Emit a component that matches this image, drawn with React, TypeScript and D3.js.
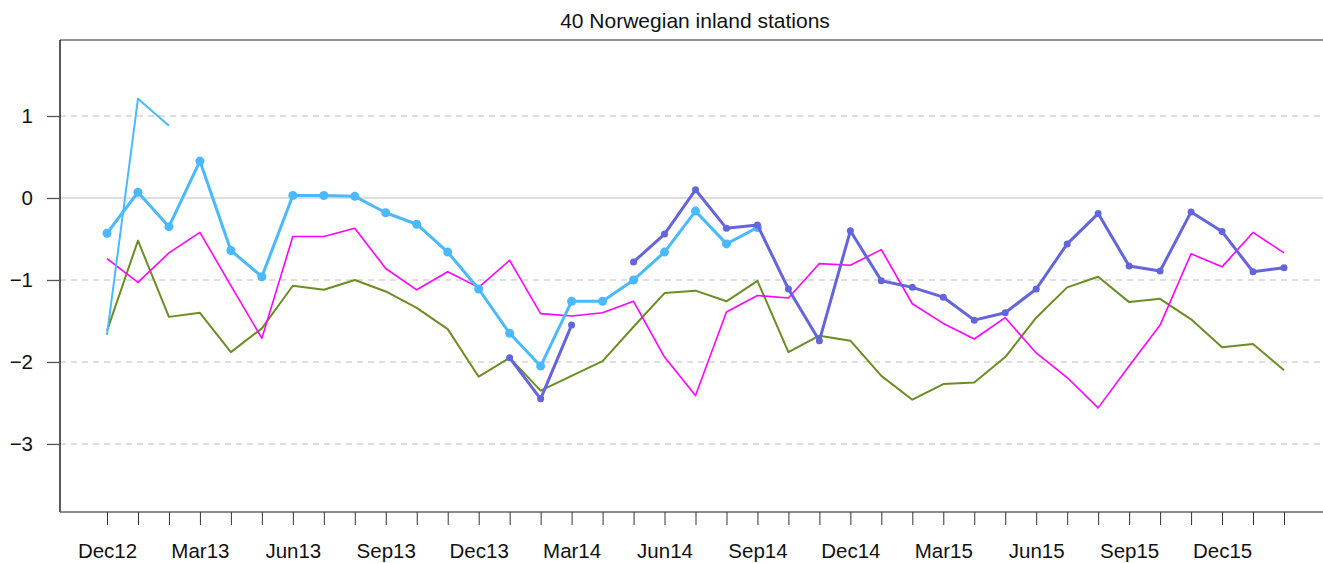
import { useEffect, useRef } from "react";
import * as d3 from "d3";

// Months Dec12 .. Feb16
const months = [
  "Dec12", "Jan13", "Feb13", "Mar13", "Apr13", "May13", "Jun13", "Jul13", "Aug13", "Sep13",
  "Oct13", "Nov13", "Dec13", "Jan14", "Feb14", "Mar14", "Apr14", "May14", "Jun14", "Jul14",
  "Aug14", "Sep14", "Oct14", "Nov14", "Dec14", "Jan15", "Feb15", "Mar15", "Apr15", "May15",
  "Jun15", "Jul15", "Aug15", "Sep15", "Oct15", "Nov15", "Dec15", "Jan16", "Feb16",
];
const tickLabels = ["Dec12", "Mar13", "Jun13", "Sep13", "Dec13", "Mar14", "Jun14", "Sep14", "Dec14", "Mar15", "Jun15", "Sep15", "Dec15"];
const yTicks = [1, 0, -1, -2, -3];

const N = null;
const olive = [
  -1.62, -0.52, -1.45, -1.4, -1.88, -1.59, -1.07, -1.12, -1.0, -1.14,
  -1.34, -1.6, -2.18, -1.95, -2.35, -2.17, -1.99, -1.57, -1.16, -1.13,
  -1.26, -1.01, -1.88, -1.68, -1.74, -2.17, -2.46, -2.27, -2.25, -1.94,
  -1.46, -1.09, -0.96, -1.27, -1.23, -1.48, -1.82, -1.78, -2.1,
];
const magenta = [
  -0.74, -1.03, -0.67, -0.42, -1.07, -1.71, -0.47, -0.47, -0.37, -0.86,
  -1.12, -0.9, -1.09, -0.76, -1.41, -1.44, -1.4, -1.26, -1.94, -2.41,
  -1.39, -1.19, -1.22, -0.8, -0.82, -0.63, -1.29, -1.53, -1.72, -1.46,
  -1.89, -2.19, -2.56, -2.05, -1.55, -0.68, -0.84, -0.42, -0.67,
];
const skyThin = [-1.67, 1.21, 0.88];
const sky = [
  -0.43, 0.07, -0.35, 0.45, -0.64, -0.96, 0.03, 0.03, 0.02, -0.18,
  -0.32, -0.66, -1.11, -1.65, -2.05, -1.26, -1.26, -1.0, -0.66, -0.16,
  -0.56, -0.36,
];
const slate = [
  N, N, N, N, N, N, N, N, N, N,
  N, N, N, -1.95, -2.45, -1.55, N, -0.78, -0.44, 0.1,
  -0.37, -0.33, -1.11, -1.74, -0.4, -1.01, -1.09, -1.21, -1.49, -1.4,
  -1.11, -0.56, -0.19, -0.83, -0.89, -0.17, -0.41, -0.9, -0.85,
];

const FONT = "'Liberation Sans', Arial, Helvetica, sans-serif";

export default function App() {
  const ref = useRef<SVGSVGElement>(null);

  useEffect(() => {
    const width = 1323;
    const left = 60, top = 40, bottom = 512;
    const svg = d3.select(ref.current);
    svg.selectAll("*").remove();

    const x = d3.scalePoint().domain(months).range([107, 1284]);
    const y = d3.scaleLinear().domain([-3.83, 1.927]).range([bottom, top]);

    // gridlines
    svg.append("g")
      .selectAll("line")
      .data(yTicks)
      .enter()
      .append("line")
      .attr("x1", left)
      .attr("x2", width)
      .attr("y1", (d) => y(d))
      .attr("y2", (d) => y(d))
      .attr("stroke", "#d3d3d3")
      .attr("stroke-width", 1.5)
      .attr("stroke-dasharray", (d) => (d === 0 ? null : "6,5"));

    // frame top
    svg.append("line").attr("x1", left).attr("x2", width).attr("y1", top).attr("y2", top)
      .attr("stroke", "#6e6e6e").attr("stroke-width", 1.5);

    // y axis
    const yAxis = svg.append("g").attr("transform", `translate(${left},0)`)
      .call(d3.axisLeft(y).tickValues(yTicks).tickSize(13).tickPadding(14)
        .tickFormat((d) => (+d < 0 ? "\u2212" + Math.abs(+d) : String(d))));
    yAxis.select(".domain").attr("d", `M0,${top}V${bottom}`).attr("stroke", "#000").attr("stroke-width", 1.3);
    yAxis.selectAll(".tick line").attr("stroke", "#555").attr("stroke-width", 1.3);
    yAxis.selectAll("text").attr("font-size", 20.5).attr("fill", "#111").attr("font-family", FONT);

    // x axis
    const xAxis = svg.append("g").attr("transform", `translate(0,${bottom})`)
      .call(d3.axisBottom(x).tickSize(13).tickPadding(18.5)
        .tickFormat((d) => (tickLabels.includes(d as string) ? (d as string) : "")));
    xAxis.select(".domain").attr("d", `M${left},0H${width}`).attr("stroke", "#666").attr("stroke-width", 1.5);
    xAxis.selectAll(".tick line").attr("stroke", "#333").attr("stroke-width", 1);
    xAxis.selectAll("text").attr("font-size", 20.5).attr("fill", "#111").attr("font-family", FONT);

    // title
    svg.append("text")
      .attr("x", 695)
      .attr("y", 28)
      .attr("text-anchor", "middle")
      .attr("font-size", 21)
      .attr("font-family", FONT)
      .attr("fill", "#111")
      .text("40 Norwegian inland stations");

    const line = d3.line<number | null>()
      .defined((d) => d !== null)
      .x((_, i) => x(months[i]) as number)
      .y((d) => y(d as number));

    const drawLine = (vals: (number | null)[], color: string, w: number) =>
      svg.append("path").datum(vals).attr("fill", "none").attr("stroke", color)
        .attr("stroke-width", w).attr("stroke-linejoin", "round").attr("d", line);

    const drawDots = (vals: (number | null)[], color: string, r: number) =>
      svg.append("g").selectAll("circle")
        .data(vals.map((v, i) => ({ v, i })).filter((d) => d.v !== null))
        .enter().append("circle")
        .attr("cx", (d) => x(months[d.i]) as number)
        .attr("cy", (d) => y(d.v as number))
        .attr("r", r)
        .attr("fill", color);

    drawLine(olive, "#6b8e23", 2);
    drawLine(magenta, "#ff00ff", 1.6);
    drawLine(skyThin, "#4ab9ff", 2);
    drawLine(sky, "#4ab9ff", 3);
    drawDots(sky, "#4ab9ff", 4.5);
    drawLine(slate, "#6464dc", 3);
    drawDots(slate, "#6464dc", 3.5);
  }, []);

  return (
    <svg ref={ref} width={1323} height={563}
      style={{ position: "absolute", left: 0, top: 0, background: "#fff" }} />
  );
}
